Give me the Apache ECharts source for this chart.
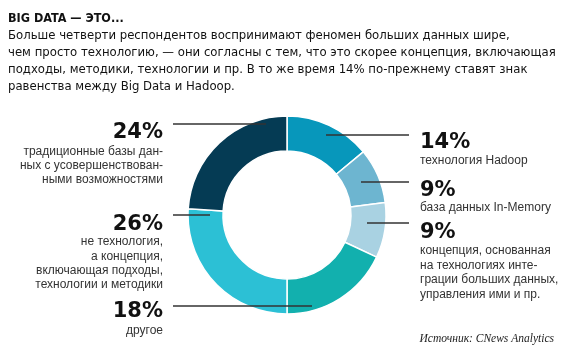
<!DOCTYPE html>
<html><head><meta charset="utf-8">
<script src="https://cdn.jsdelivr.net/npm/echarts@6/dist/echarts.min.js"></script>
<style>html,body{margin:0;padding:0;background:#fff}#c{width:579px;height:357px}</style>
</head><body><div id="c"></div>
<script>
var categories = ['технология Hadoop','база данных In-Memory','концепция, основанная на технологиях интеграции больших данных, управления ими и пр.','другое','не технология, а концепция, включающая подходы, технологии и методики','традиционные базы данных с усовершенствованными возможностями'];
var values = [14, 9, 9, 18, 26, 24];
var colors = ['#0797bb','#6db5d0','#a9d2e2','#12b0ae','#2cc0d5','#053b54'];
var labelLines = [
  ['технология Hadoop'],
  ['база данных In-Memory'],
  ['концепция, основанная','на технологиях инте-','грации больших данных,','управления ими и пр.'],
  ['другое'],
  ['не технология,','а концепция,','включающая подходы,','технологии и методики'],
  ['традиционные базы дан-','ных с усовершенствован-','ными возможностями']
];
var titleText = 'BIG DATA — ЭТО...';
var bodyLines = [
  'Больше четверти респондентов воспринимают феномен больших данных шире,',
  'чем просто технологию, — они согласны с тем, что это скорее концепция, включающая',
  'подходы, методики, технологии и пр. В то же время 14% по-прежнему ставят знак',
  'равенства между Big Data и Hadoop.'
];
var sourceText = 'Источник: CNews Analytics';

// annotation layout: [pctX, pctY, align, descY, lineX1, lineX2, lineY]
var annot = [
  [420, 143, 'left', 161, 326, 409, 135],
  [420, 191, 'left', 208, 361, 409, 182],
  [420, 233, 'left', 251, 367, 409, 223],
  [163, 312, 'right', 331, 173, 312, 306],
  [163, 225, 'right', 242, 173, 210, 215],
  [163, 133, 'right', 152, 173, 266, 124]
];
var descLH = [14, 14, 14.5, 14, 14.3, 13.7];

var chart = echarts.init(document.getElementById('c'), null, {renderer:'canvas'});
var graphics = [];
var bodyFont = '"Liberation Sans Narrow","DejaVu Sans Condensed",sans-serif';
var descFont = '"Liberation Sans","DejaVu Sans",sans-serif';
graphics.push({type:'text', x:8, y:19, z:100, style:{text:titleText, font:'bold 12.5px '+bodyFont, fill:'#111', verticalAlign:'middle'}});
bodyLines.forEach(function(t,i){
  graphics.push({type:'text', x:8, y:35.5+i*17.2, z:100, style:{text:t, font:'13px '+bodyFont, fill:'#111', verticalAlign:'middle'}});
});
annot.forEach(function(a,i){
  graphics.push({type:'line', z:100, shape:{x1:a[4], y1:a[6], x2:a[5], y2:a[6]}, style:{stroke:'#333', lineWidth:1.4}});
  graphics.push({type:'text', z:100, x:a[0], y:a[1], style:{text:values[i]+'%', font:'bold 21px "DejaVu Sans",sans-serif', fill:'#111', align:a[2], verticalAlign:'middle'}});
  labelLines[i].forEach(function(t,j){
    graphics.push({type:'text', z:100, x:a[0], y:a[3]+j*descLH[i], style:{text:t, font:'12px '+descFont, fill:'#333', align:a[2], verticalAlign:'middle'}});
  });
});
graphics.push({type:'text', z:100, x:554, y:339, style:{text:sourceText, font:'italic 11.5px "Liberation Serif","DejaVu Serif",serif', fill:'#222', align:'right', verticalAlign:'middle'}});

chart.setOption({
  animation:false,
  backgroundColor:'#fff',
  color: colors,
  series:[{
    type:'pie',
    center:[287,215],
    radius:[64,99],
    startAngle:90,
    clockwise:true,
    label:{show:false},
    labelLine:{show:false},
    emphasis:{disabled:true},
    itemStyle:{borderColor:'#fff', borderWidth:1.5},
    data: categories.map(function(c,i){return {name:c, value:values[i]};})
  }],
  graphic: graphics
});
</script></body></html>
